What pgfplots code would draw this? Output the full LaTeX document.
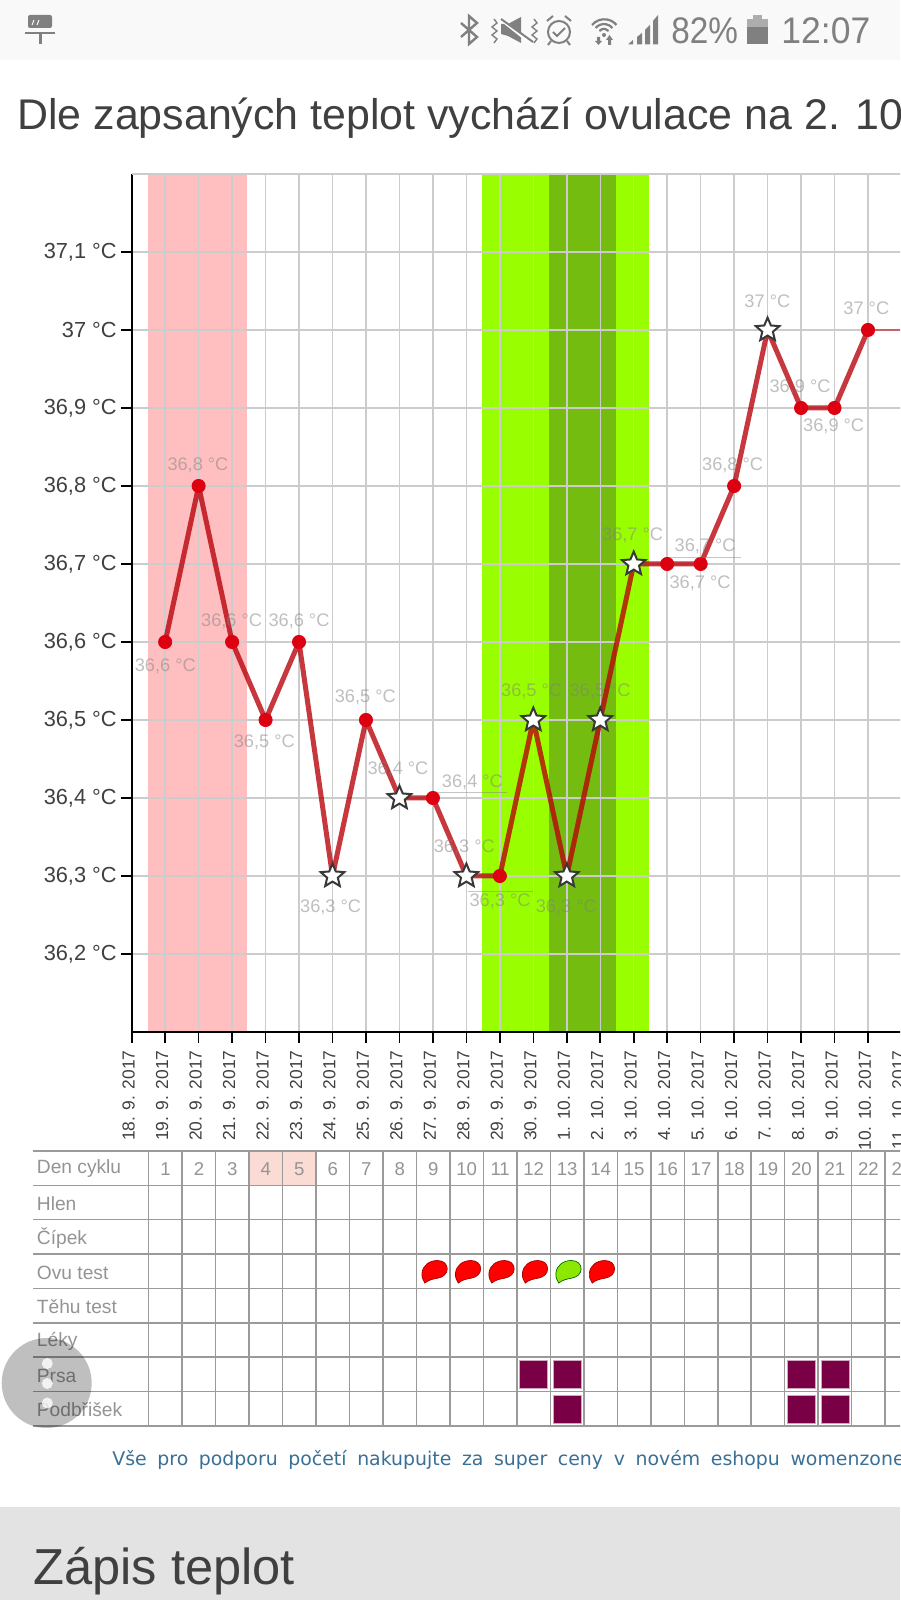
\documentclass[border=0pt]{standalone}
\usepackage{pgfplots}
\pgfplotsset{compat=1.18}
\usepackage{fontspec}
\setmainfont{Liberation Sans}
\newfontfamily\linkfont{DejaVu Sans}
\newcommand{\fs}[1]{\fontsize{#1}{#1}\selectfont}
\definecolor{gridc}{HTML}{CCCCCC}
\definecolor{tablec}{HTML}{9A9A9A}
\definecolor{pinkb}{HTML}{FFBFC0}
\definecolor{greenb}{HTML}{99FF00}
\definecolor{greend}{HTML}{74BD10}
\definecolor{cellp}{HTML}{FADCD5}
\definecolor{purp}{HTML}{7A0046}
\definecolor{barc}{HTML}{808080}
\definecolor{darkt}{HTML}{404040}
\definecolor{linkc}{HTML}{3A7096}
\definecolor{linec}{HTML}{B80008}
\definecolor{dotc}{HTML}{DC0010}
\definecolor{ovug}{HTML}{8CE800}
\pgfdeclareplotmark{wstar}{%
  \pgfpathmoveto{\pgfqpointpolar{90}{6.2pt}}%
  \pgfpathlineto{\pgfqpointpolar{126}{2.8pt}}%
  \pgfpathlineto{\pgfqpointpolar{162}{6.2pt}}%
  \pgfpathlineto{\pgfqpointpolar{198}{2.8pt}}%
  \pgfpathlineto{\pgfqpointpolar{234}{6.2pt}}%
  \pgfpathlineto{\pgfqpointpolar{270}{2.8pt}}%
  \pgfpathlineto{\pgfqpointpolar{306}{6.2pt}}%
  \pgfpathlineto{\pgfqpointpolar{342}{2.8pt}}%
  \pgfpathlineto{\pgfqpointpolar{18}{6.2pt}}%
  \pgfpathlineto{\pgfqpointpolar{54}{2.8pt}}%
  \pgfpathclose\pgfusepathqfillstroke}
\pgfdeclareplotmark{ovu}{%
  \pgfpathmoveto{\pgfqpoint{-4.8pt}{-5.9pt}}%
  \pgfpathcurveto{\pgfqpoint{-5.6pt}{-4.6pt}}{\pgfqpoint{-6.5pt}{-3pt}}{\pgfqpoint{-6.2pt}{-0.8pt}}%
  \pgfpathcurveto{\pgfqpoint{-5.8pt}{3pt}}{\pgfqpoint{-2.5pt}{5.4pt}}{\pgfqpoint{1.5pt}{5.4pt}}%
  \pgfpathcurveto{\pgfqpoint{4.6pt}{5.4pt}}{\pgfqpoint{6.4pt}{3.6pt}}{\pgfqpoint{6.4pt}{1.2pt}}%
  \pgfpathcurveto{\pgfqpoint{6.4pt}{-1.2pt}}{\pgfqpoint{4.4pt}{-2.9pt}}{\pgfqpoint{1.8pt}{-3.4pt}}%
  \pgfpathcurveto{\pgfqpoint{-0.6pt}{-3.8pt}}{\pgfqpoint{-3pt}{-4.3pt}}{\pgfqpoint{-4.8pt}{-5.9pt}}%
  \pgfpathclose\pgfusepathqfillstroke}
\begin{document}
\begin{tikzpicture}
\path[use as bounding box] (0,0) rectangle (450pt,800pt);
\clip (0,0) rectangle (450pt,800pt);
\fill[white] (0,0) rectangle (450pt,800pt);

% bands of the chart (under the grid)
\begin{axis}[at={(65.85pt,284pt)},anchor=south west,scale only axis,width=389.9pt,height=429pt,
  xmin=0,xmax=23.3,ymin=36.1,ymax=37.2,hide axis,clip=true]
\addplot[fill=pinkb,draw=none] coordinates {(0.5,36.1)(3.44,36.1)(3.44,37.2)(0.5,37.2)} -- cycle;
\addplot[fill=greenb,draw=none] coordinates {(10.48,36.1)(15.45,36.1)(15.45,37.2)(10.48,37.2)} -- cycle;
\addplot[fill=greend,draw=none] coordinates {(12.48,36.1)(14.46,36.1)(14.46,37.2)(12.48,37.2)} -- cycle;
\end{axis}

% the temperature chart
\begin{axis}[at={(65.85pt,284pt)},anchor=south west,scale only axis,width=389.9pt,height=429pt,
  xmin=0,xmax=23.3,ymin=36.1,ymax=37.2,
  axis x line*=bottom,axis y line*=left,
  axis line style={black,line width=0.8pt},
  tick align=outside,major tick length=5.3pt,
  tick style={black,line width=0.8pt},
  grid=major,grid style={gridc,line width=0.75pt},
  xtick={0,...,23},
  xticklabels={18. 9. 2017,19. 9. 2017,20. 9. 2017,21. 9. 2017,22. 9. 2017,23. 9. 2017,24. 9. 2017,25. 9. 2017,26. 9. 2017,27. 9. 2017,28. 9. 2017,29. 9. 2017,30. 9. 2017,1. 10. 2017,2. 10. 2017,3. 10. 2017,4. 10. 2017,5. 10. 2017,6. 10. 2017,7. 10. 2017,8. 10. 2017,9. 10. 2017,10. 10. 2017,11. 10. 2017},
  xticklabel style={rotate=90,anchor=east,font=\fs{8.7},text=darkt,xshift=-2.8pt,yshift=1.5pt,inner sep=1pt},
  ytick={36.2,36.3,36.4,36.5,36.6,36.7,36.8,36.9,37.0,37.1},
  yticklabels={{36,2 °C},{36,3 °C},{36,4 °C},{36,5 °C},{36,6 °C},{36,7 °C},{36,8 °C},{36,9 °C},{37 °C},{37,1 °C}},
  yticklabel style={font=\fs{10.9},text=darkt,inner sep=1pt,xshift=-1pt},
  extra y ticks={37.2},extra y tick labels={},
  extra y tick style={major tick length=0pt,grid=major},
  clip=true]
\addplot[color=linec,line width=2.5pt,opacity=0.78,line join=round] coordinates {
 (1,36.6)(2,36.8)(3,36.6)(4,36.5)(5,36.6)(6,36.3)(7,36.5)(8,36.4)(9,36.4)(10,36.3)(11,36.3)
 (12,36.5)(13,36.3)(14,36.5)(15,36.7)(16,36.7)(17,36.7)(18,36.8)(19,37.0)(20,36.9)(21,36.9)(22,37.0)};
\addplot[color=linec,line width=1pt,opacity=0.5] coordinates {(22,37.0)(23,37.0)};
\addplot[only marks,mark=*,mark size=3.3pt,color=dotc] coordinates {
 (1,36.6)(2,36.8)(3,36.6)(4,36.5)(5,36.6)(7,36.5)(9,36.4)(11,36.3)(16,36.7)(17,36.7)(18,36.8)(20,36.9)(21,36.9)(22,37.0)};
\addplot[only marks,mark=wstar,mark options={fill=white,draw=black!78,line width=1pt,line join=miter}] coordinates {
 (6,36.3)(8,36.4)(10,36.3)(12,36.5)(13,36.3)(14,36.5)(15,36.7)(19,37.0)};
\end{axis}

% background of the table
\begin{axis}[at={(16.65pt,87pt)},anchor=south west,scale only axis,width=439.3pt,height=137.5pt,
  xmin=-2.948,xmax=23.3,ymin=0,ymax=8,hide axis]
\addplot[fill=cellp,draw=none] coordinates {(3.5,7)(5.5,7)(5.5,8)(3.5,8)} -- cycle;
\end{axis}

% the table of the cycle
\begin{axis}[at={(16.65pt,87pt)},anchor=south west,scale only axis,width=439.3pt,height=137.5pt,
  xmin=-2.948,xmax=23.3,ymin=0,ymax=8,
  axis line style={draw=none},major tick length=0pt,
  xtick={0.5,1.5,...,22.5},ytick={0,...,8},
  xticklabels={},yticklabels={},
  grid=major,grid style={tablec,line width=0.75pt},clip=false]
\addplot[only marks,mark=square*,mark size=7pt,color=purp,mark options={draw=purp!35!white,line width=0.3pt}] coordinates {
 (12,1.5)(13,1.5)(20,1.5)(21,1.5)(13,0.5)(20,0.5)(21,0.5)};
\addplot[only marks,mark=ovu,mark options={fill=red,draw=red!65!black,line width=0.35pt,xshift=0.6pt}] coordinates {
 (9,4.5)(10,4.5)(11,4.5)(12,4.5)(14,4.5)};
\addplot[only marks,mark=ovu,mark options={fill=ovug,draw=green!40!black,line width=0.35pt,xshift=0.6pt}] coordinates {(13,4.5)};
\pgfplotsinvokeforeach{1,...,23}{\node[text=black!42,font=\fs{9.3}] at (axis cs:#1,7.47) {#1};}
\end{axis}

% data labels, in the coordinates of the picture shown (882 x 1568)
\begin{scope}[x=0.5102pt,y=-0.5102pt,shift={(0,800pt)},yshift=-0.8pt,
  dl/.style={font=\fs{9.1},text=black!50,opacity=0.5,inner sep=0pt}]
\node[dl] at (162,651) {36,6 °C};
\node[dl] at (194,454) {36,8 °C};
\node[dl] at (227,607) {36,6 °C};
\node[dl] at (259,726) {36,5 °C};
\node[dl] at (293,607) {36,6 °C};
\node[dl] at (324,888) {36,3 °C};
\node[dl] at (358,682) {36,5 °C};
\node[dl] at (390,752) {36,4 °C};
\node[dl] at (463,765) {36,4 °C};
\node[dl] at (455,829) {36,3 °C};
\node[dl] at (490,882) {36,3 °C};
\node[dl] at (521,676) {36,5 °C};
\node[dl] at (555,888) {36,3 °C};
\node[dl] at (588,676) {36,5 °C};
\node[dl] at (620,523) {36,7 °C};
\node[dl] at (691,534) {36,7 °C};
\node[dl] at (686,570) {36,7 °C};
\node[dl] at (718,454) {36,8 °C};
\node[dl] at (752,294) {37 °C};
\node[dl] at (784,378) {36,9 °C};
\node[dl] at (817,416) {36,9 °C};
\node[dl] at (849,301) {37 °C};
\draw[black!50,opacity=0.45,line width=0.5pt] (428,775)--(497,775);
\draw[black!50,opacity=0.45,line width=0.5pt] (459,872)--(522,872);
\draw[black!50,opacity=0.45,line width=0.5pt] (657,545)--(726,545);
\end{scope}

% the page round the chart, in the pixels of the full reference
\begin{scope}[x=0.5pt,y=-0.5pt,shift={(0,800pt)}]
\fill[black!2.5] (0,0) rectangle (900,60);
\fill[black!11] (0,1507) rectangle (900,1600);
% left icon
\fill[barc,rounded corners=1pt] (28,15) rectangle (52,28);
\fill[barc] (25,32) rectangle (55,34.5);
\fill[barc] (39,34.5) rectangle (42,44);
\draw[white,line width=0.5pt] (32,25)--(34,20) (37,25)--(39,20);
% bluetooth
\draw[barc,line width=1.2pt,line join=miter] (461,23)--(477,37)--(469,44)--(469,16)--(477,23)--(461,37);
% mute
\fill[barc] (501,24) -- (508,24) -- (521,17) -- (521,43) -- (508,36) -- (501,34) -- cycle;
\draw[white,line width=1.6pt] (498,17)--(532,44);
\draw[barc,line width=1pt] (501,19)--(533,42);
\draw[barc,line width=0.7pt] (494,19)--(497,23)--(492,27)--(497,31)--(492,35)--(497,39)--(494,43);
\draw[barc,line width=0.7pt] (534,19)--(537,23)--(532,27)--(537,31)--(532,35)--(537,39)--(534,43);
% alarm
\draw[barc,line width=1pt] (559,32) circle (11);
\draw[barc,line width=1pt] (553,32)--(557,36)--(565,28);
\draw[barc,line width=1pt] (547,21)--(553,16) (571,21)--(565,16);
\draw[barc,line width=1pt] (551,41)--(548,45) (567,41)--(570,45);
% wifi
\draw[barc,line width=1.1pt] (592,25) arc[start angle=220,end angle=320,radius=16];
\draw[barc,line width=1.1pt] (595.6,28) arc[start angle=220,end angle=320,radius=11];
\draw[barc,line width=1.1pt] (599.4,31) arc[start angle=220,end angle=320,radius=6];
\fill[barc] (604,35) circle (2);
\fill[barc] (597,37) rectangle (600,41) (595,41)--(602,41)--(598.5,45)--cycle;
\fill[barc] (608,40) rectangle (611,45) (606,40)--(613,40)--(609.5,35)--cycle;
% signal
\fill[barc] (628,44.5)--(633,40)--(633,44.5)--cycle;
\fill[barc] (637,44.5)--(637,37)--(642,33)--(642,44.5)--cycle;
\fill[barc] (645,44.5)--(645,30)--(650,25)--(650,44.5)--cycle;
\fill[barc] (653,44.5)--(653,21)--(658,15)--(658,44.5)--cycle;
% battery
\fill[black!32] (753,15.5) rectangle (762,20);
\fill[black!32] (747,19) rectangle (768,27);
\fill[barc] (747,27) rectangle (768,44.5);
\node[anchor=base west,inner sep=0pt,text=barc,font=\fs{18.5},xscale=0.9] at (671,44) {82\%};
\node[anchor=base west,inner sep=0pt,text=barc,font=\fs{18.5},xscale=0.96] at (781,44) {12:07};
% titles
\node[anchor=base west,inner sep=0pt,text=darkt,font=\fs{21.45}] at (17,130) {Dle zapsaných teplot vychází ovulace na 2. 10};
\node[anchor=base west,inner sep=0pt,text=darkt,font=\fs{25.3}] at (33,1585) {Zápis teplot};
% row names
\foreach \yy/\t in {1169/Den cyklu,1203.5/Hlen,1238/Čípek,1272.5/Ovu test,1307/Těhu test,1341/Léky,1376/Prsa,1410/Podbřišek}{
  \node[anchor=west,inner sep=0pt,text=black!42,font=\fs{9.6}] at (36.5,\yy) {\t};}
% link
\node[anchor=west,inner sep=0pt,text=linkc,font=\linkfont\fs{9.45}] at (112,1459.5) {\spaceskip=5.3pt Vše pro podporu početí nakupujte za super ceny v novém eshopu womenzone};
% floating button
\fill[black,opacity=0.25] (46.7,1383) circle (45);
\fill[white,opacity=0.8] (47.3,1363.5) circle (5.5) (47.3,1383.5) circle (5.5) (47.3,1403) circle (5.5);
\end{scope}
\end{tikzpicture}
\end{document}
